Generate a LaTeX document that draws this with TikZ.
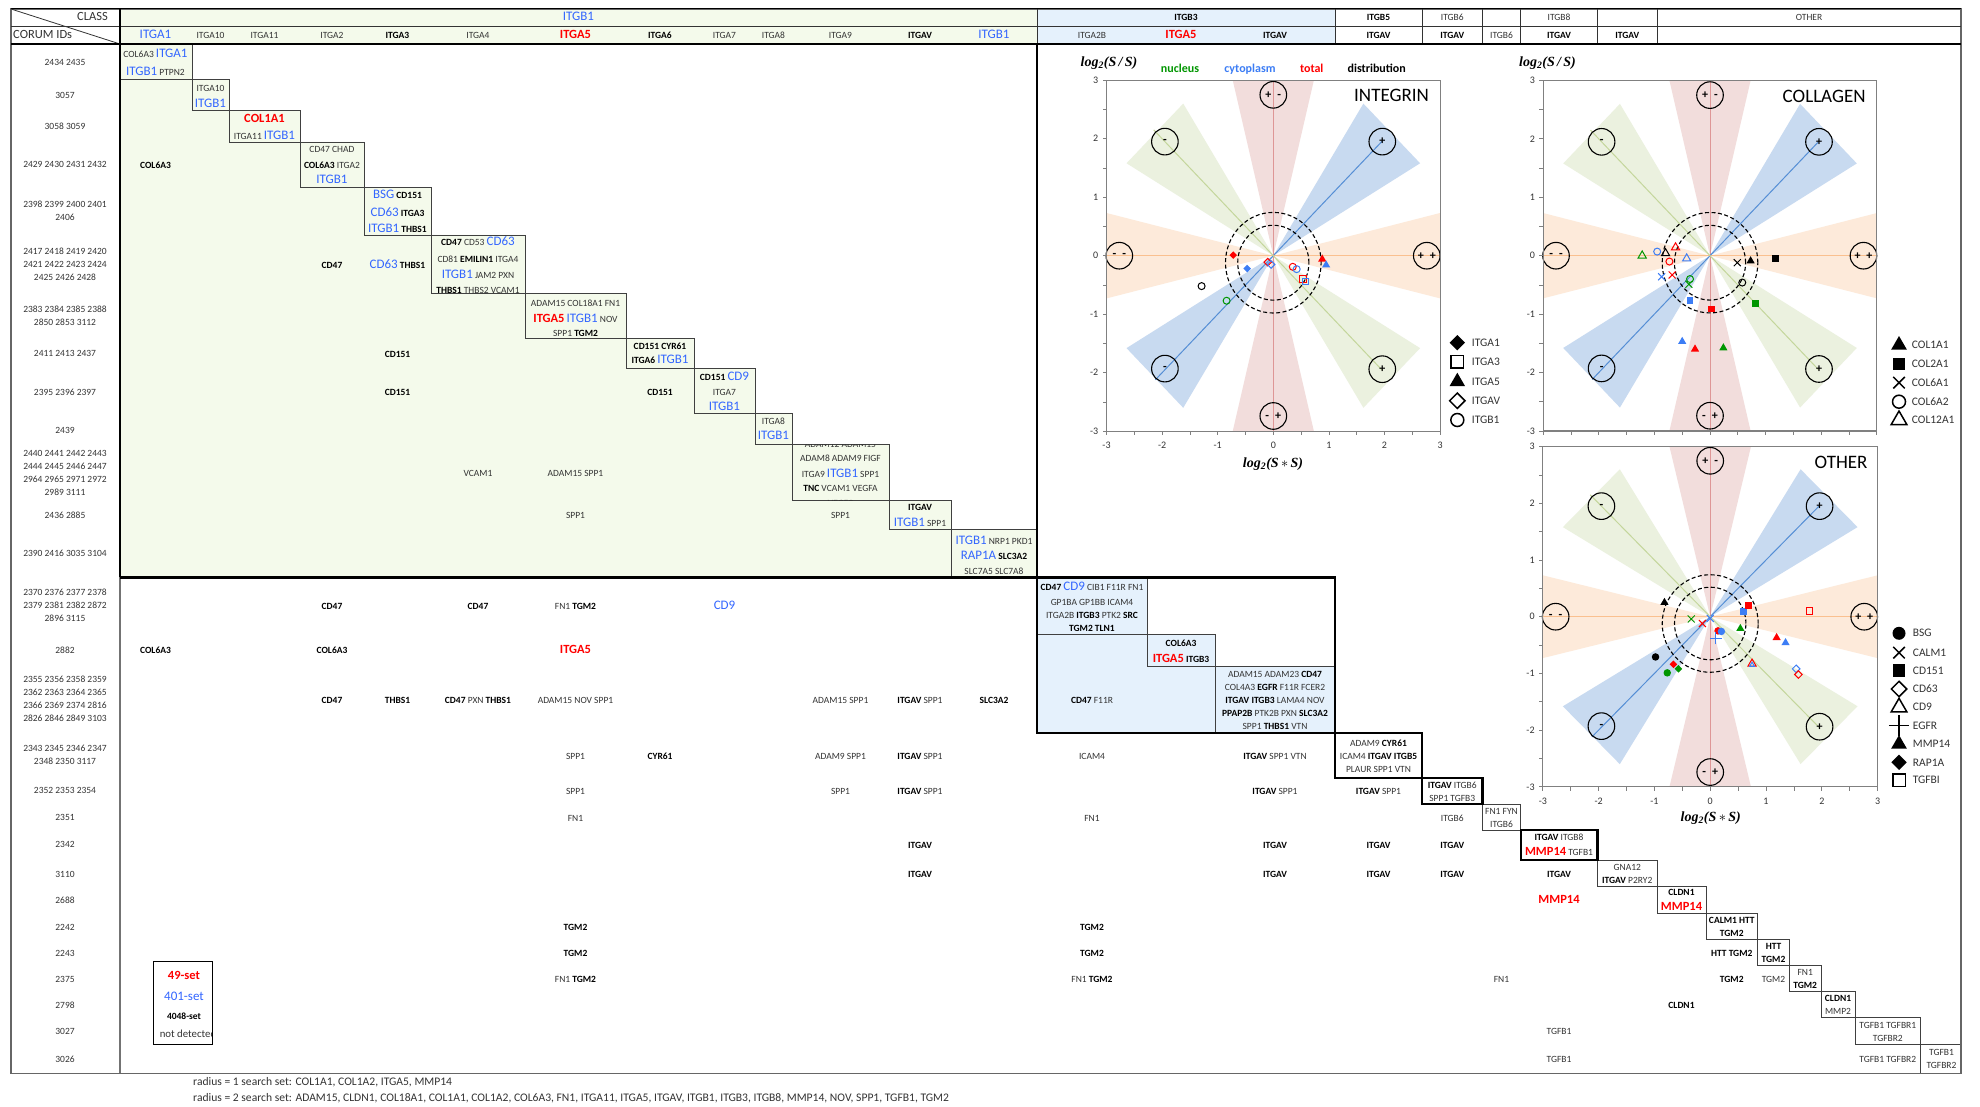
\documentclass[tikz,border=0pt]{standalone}
\usepackage{fontspec}
\setmainfont{Carlito}
\newfontfamily\axisfont{Liberation Serif}
\usetikzlibrary{shapes.geometric,shapes.misc}

\definecolor{setred}{RGB}{255,0,0}
\definecolor{setblue}{RGB}{51,102,255}
\definecolor{cytblue}{RGB}{60,125,245}
\definecolor{nucgreen}{RGB}{0,150,0}
\definecolor{itgbonefill}{RGB}{244,250,235}
\definecolor{itgbthreefill}{RGB}{229,241,252}
\definecolor{wedgeorange}{RGB}{253,234,218}
\definecolor{wedgepink}{RGB}{242,221,220}
\definecolor{wedgeblue}{RGB}{200,218,240}
\definecolor{wedgegreen}{RGB}{235,241,223}
\definecolor{lineorange}{RGB}{250,192,143}
\definecolor{linepink}{RGB}{222,150,150}
\definecolor{lineblue}{RGB}{85,142,213}
\definecolor{linegreen}{RGB}{196,214,155}

\newcommand{\gR}[1]{{\fontsize{12.5}{13}\selectfont\bfseries\color{setred}#1}}
\newcommand{\gB}[1]{{\fontsize{13}{13}\selectfont\color{setblue}#1}}
\newcommand{\gK}[1]{{\bfseries\color{black}#1}}
\newcommand{\logss}[1]{{\axisfont\fontsize{14}{14}\selectfont\bfseries\itshape log\textsubscript{2}(S#1S)}}

\tikzset{
  txt/.style={anchor=base, yshift=-3.4pt, inner sep=0pt, text=black!80,
    font=\fontsize{9.5}{11}\selectfont},
  idtxt/.style={align=center, inner sep=0pt, text=black!80,
    font=\fontsize{9.5}{13}\selectfont},
  headtxt/.style={txt, font=\fontsize{12.5}{13}\selectfont},
  notetxt/.style={txt, anchor=base west, font=\fontsize{11.6}{12}\selectfont},
  thinbox/.style={draw=black!75, line width=0.8pt},
  thickbox/.style={draw=black, line width=2.2pt},
  axisgray/.style={draw=black!50},
  ticklab/.style={inner sep=0pt, text=black!80, font=\fontsize{10}{10}\selectfont},
  signring/.style={circle, draw=black, line width=1.1pt, minimum size=26.6pt,
    inner sep=0pt, font=\bfseries\fontsize{12}{12}\selectfont},
  dashed ring/.style={draw=black, line width=1.1pt, dash pattern=on 4pt off 2.5pt},
  mk/.style={inner sep=0pt, line width=1pt},
  fdia/.style={mk, diamond, fill, minimum size=8pt},
  odia/.style={mk, diamond, draw, minimum size=8pt},
  fsq/.style={mk, rectangle, fill, minimum size=6.5pt},
  osq/.style={mk, rectangle, draw, minimum size=6.5pt},
  ftri/.style={mk, regular polygon, regular polygon sides=3, fill, minimum size=9.5pt},
  otri/.style={mk, regular polygon, regular polygon sides=3, draw, minimum size=9.5pt},
  otris/.style={mk, regular polygon, regular polygon sides=3, draw, minimum size=5.5pt},
  fcirc/.style={mk, circle, fill, minimum size=7.5pt},
  ocirc/.style={mk, circle, draw, minimum size=7pt},
  xmark/.style={mk, cross out, draw, minimum size=6pt},
  pmark/.style={mk, cross out, draw, minimum size=7.5pt, rotate=45},
  legtxt/.style={anchor=west, inner sep=0pt, text=black!80, font=\fontsize{11.5}{12}\selectfont},
  plottitle/.style={anchor=north east, inner sep=0pt, font=\fontsize{19}{19}\selectfont},
  keytxt/.style={anchor=base, inner sep=0pt, font=\bfseries\fontsize{12}{12}\selectfont},
}

\newcommand{\sectorgrid}[1]{%
  \fill[wedgeorange] (0,0) -- (-3,0.73) -- (-3,-0.73) -- cycle
                     (0,0) -- (3,0.73) -- (3,-0.73) -- cycle;
  \fill[wedgepink] (0,0) -- (-0.73,3) -- (0.73,3) -- cycle
                   (0,0) -- (-0.73,-3) -- (0.73,-3) -- cycle;
  \fill[wedgeblue] (0,0) -- (1.62,2.6) -- (2.64,1.58) -- cycle
                   (0,0) -- (-1.62,-2.6) -- (-2.64,-1.58) -- cycle;
  \fill[wedgegreen] (0,0) -- (-1.62,2.6) -- (-2.64,1.58) -- cycle
                    (0,0) -- (1.62,-2.6) -- (2.64,-1.58) -- cycle;
  \draw[lineorange, line width=1pt] (-3,0) -- (3,0);
  \draw[linepink, line width=1pt] (0,-3) -- (0,3);
  \draw[lineblue, line width=1pt] (-2.12,-2.12) -- (1.96,1.96);
  \draw[linegreen, line width=1pt] (-2.15,2.15) -- (1.96,-1.96);
  \draw[dashed ring] (0,-0.12) circle [radius=0.86];
  \draw[dashed ring] (0,-0.12) circle [radius=0.64];
  \foreach \sgx/\sgy/\sgt [count=\i] in {0/2.75/{+\hspace{6pt}-}, 0/-2.74/{-\hspace{6pt}+},
      -2.77/0/{-\hspace{6pt}-}, 2.76/0/{+\hspace{6pt}+}, 1.96/1.95/+, -1.95/1.95/-,
      -1.95/-1.93/-, 1.96/-1.94/+}
    \node[signring] (#1sign\i) at (\sgx,\sgy) {\sgt};
  \draw[axisgray, line width=1.2pt] (-3,-3) rectangle (3,3);
  \foreach \tk in {-3,-2.5,...,3} {
    \draw[axisgray, line width=0.8pt] (-3,\tk) -- ++(-4pt,0);
    \draw[axisgray, line width=0.8pt] (\tk,-3) -- ++(0,-4pt);
  }
  \foreach \tk [count=\i] in {-3,...,3}
    \node[ticklab, anchor=east, xshift=-8pt] (#1ylab\i) at (-3,\tk) {\tk};
}

\begin{document}
\begin{tikzpicture}[x=1pt, y=-1pt]
\useasboundingbox (0,0) rectangle (1980,1107);
\fill[white] (0,0) rectangle (1980,1107);

\fill[itgbonefill] (120,9) rectangle (1037,44);
\fill[itgbthreefill] (1037,9) rectangle (1335,44);
\fill[itgbonefill] (120,44) -- (192,44) -- (192,79.3) -- (229,79.3) -- (229,110.7)
  -- (300,110.7) -- (300,142) -- (364,142) -- (364,187.3) -- (431,187.3) -- (431,235)
  -- (525,235) -- (525,293.3) -- (626,293.3) -- (626,338.3) -- (694,338.3) -- (694,368.3)
  -- (755,368.3) -- (755,413.3) -- (792,413.3) -- (792,444.3) -- (889,444.3) -- (889,500.7)
  -- (951,500.7) -- (951,529.3) -- (1037,529.3) -- (1037,577.3) -- (120,577.3) -- cycle;
\fill[itgbthreefill] (1037,577.3) -- (1147,577.3) -- (1147,634) -- (1215,634) -- (1215,666)
  -- (1335,666) -- (1335,733) -- (1037,733) -- cycle;

\foreach \xa/\xb/\ya/\yb in {120/192/44/79.3, 192/229/79.3/110.7, 229/300/110.7/142,
    300/364/142/187.3, 364/431/187.3/235, 431/525/235/293.3, 525/626/293.3/338.3,
    626/694/338.3/368.3, 694/755/368.3/413.3, 755/792/413.3/444.3, 792/889/444.3/500.7,
    889/951/500.7/529.3, 951/1037/529.3/577.3, 1037/1147/577.3/634, 1147/1215/634/666,
    1215/1335/666/733, 1482.5/1520.6/804.3/830, 1597.5/1657/860/886.7, 1657/1706/886.7/913.3,
    1706/1757.5/913.3/939.3, 1757.5/1789.4/939.3/965.3, 1789.4/1821/965.3/991.7,
    1821/1855/991.7/1017.7, 1855/1920.6/1017.7/1044, 1920.6/1961/1044/1073.3}
  \draw[thinbox] (\xa,\ya) rectangle (\xb,\yb);
\foreach \xa/\xb/\ya/\yb in {1335/1422/733/778.3, 1422/1482.5/778.3/804.3, 1520.6/1597.5/830/860}
  \draw[thickbox] (\xa,\ya) rectangle (\xb,\yb);

\draw[black!60, line width=1.6pt] (11,9) rectangle (1961,1073.3);
\draw[black, line width=1pt] (11,9) -- (1961,9);
\draw[black!80, line width=0.8pt] (11,26.5) -- (1961,26.5);
\draw[black!80, line width=0.8pt] (11,9) -- (120,44);
\foreach \x in {1037,1335,1422,1482.5,1520.6,1597.5,1657}
  \draw[black!80, line width=0.8pt] (\x,9) -- (\x,44);
\draw[black, line width=2.4pt] (11,44) -- (1961,44);
\draw[black, line width=2.2pt] (120,9) -- (120,577.3);
\draw[black!55, line width=2pt] (120,577.3) -- (120,1073.3);
\draw[black, line width=2.4pt] (120,577.3) -- (1037,577.3) (1037,44) -- (1037,577.3);
\draw[black, line width=2.4pt] (1037,577.3) rectangle (1335,733);

\node[headtxt, anchor=base east] (classlab) at (108,17.5) {CLASS};
\node[headtxt, anchor=base west] (corumlab) at (13,35) {CORUM IDs};
\foreach \hdx/\hdy/\hdt [count=\i] in {578.5/17.5/{\gB{ITGB1}}, 1186/17.5/{\gK{ITGB3}},
    1378.5/17.5/{\gK{ITGB5}}, 1452.25/17.5/{ITGB6}, 1559/17.5/{ITGB8}, 1809/17.5/{OTHER},
    155.5/35/{\gB{ITGA1}}, 210.5/35/{ITGA10}, 264.5/35/{ITGA11}, 332/35/{ITGA2},
    397.5/35/{\gK{ITGA3}}, 478/35/{ITGA4}, 575.5/35/{\gR{ITGA5}}, 660/35/{\gK{ITGA6}},
    724.5/35/{ITGA7}, 773.5/35/{ITGA8}, 840.5/35/{ITGA9}, 920/35/{\gK{ITGAV}},
    994/35/{\gB{ITGB1}}, 1092/35/{ITGA2B}, 1181/35/{\gR{ITGA5}}, 1275/35/{\gK{ITGAV}},
    1378.5/35/{\gK{ITGAV}}, 1452.25/35/{\gK{ITGAV}}, 1501.5/35/{ITGB6},
    1559/35/{\gK{ITGAV}}, 1627.25/35/{\gK{ITGAV}}}
  \node[txt] (hd\i) at (\hdx,\hdy) {\hdt};

\foreach \idy/\idt [count=\i] in {62.7/{2434 2435}, 95.7/{3057}, 126.7/{3058 3059},
    164.7/{2429 2430 2431 2432}, 211.2/{2398 2399 2400 2401\\2406},
    264.7/{2417 2418 2419 2420\\2421 2422 2423 2424\\2425 2426 2428},
    316.2/{2383 2384 2385 2388\\2850 2853 3112}, 353.7/{2411 2413 2437},
    392/{2395 2396 2397}, 430/{2439},
    472.5/{2440 2441 2442 2443\\2444 2445 2446 2447\\2964 2965 2971 2972\\2989 3111},
    515/{2436 2885}, 553.3/{2390 2416 3035 3104},
    605.7/{2370 2376 2377 2378\\2379 2381 2382 2872\\2896 3115}, 650/{2882},
    699.2/{2355 2356 2358 2359\\2362 2363 2364 2365\\2366 2369 2374 2816\\2826 2846 2849 3103},
    755.2/{2343 2345 2346 2347\\2348 2350 3117}, 790.7/{2352 2353 2354}, 817.7/{2351},
    844.7/{2342}, 874/{3110}, 900.3/{2688}, 927/{2242}, 953/{2243}, 979/{2375},
    1005/{2798}, 1031.7/{3027}, 1059/{3026}}
  \node[idtxt] (id\i) at (65,\idy) {\idt};

\foreach \clx/\cly/\clt [count=\i] in {155.5/54.3/{COL6A3 \gB{ITGA1}}, 155.5/71.7/{\gB{ITGB1} PTPN2},
    210.5/87.7/{ITGA10}, 210.5/104/{\gB{ITGB1}}, 264.5/119.3/{\gR{COL1A1}},
    264.5/135.7/{ITGA11 \gB{ITGB1}}, 332/149/{CD47 CHAD}, 332/165/{\gK{COL6A3} ITGA2},
    332/180.3/{\gB{ITGB1}}, 397.5/195.3/{\gB{BSG} \gK{CD151}}, 397.5/212.7/{\gB{CD63} \gK{ITGA3}},
    397.5/228.7/{\gB{ITGB1} \gK{THBS1}}, 478/242/{\gK{CD47} CD53 \gB{CD63}},
    478/259/{CD81 \gK{EMILIN1} ITGA4}, 478/275.3/{\gB{ITGB1} JAM2 PXN},
    478/289.7/{\gK{THBS1} THBS2 VCAM1}, 575.5/303/{ADAM15 COL18A1 FN1},
    575.5/319.3/{\gR{ITGA5} \gB{ITGB1} NOV}, 575.5/332.7/{SPP1 \gK{TGM2}},
    660/345.7/{\gK{CD151 CYR61}}, 660/360/{\gK{ITGA6} \gB{ITGB1}},
    724.5/377.3/{\gK{CD151} \gB{CD9}}, 724.5/391.7/{ITGA7}, 724.5/406.7/{\gB{ITGB1}},
    773.5/420.7/{ITGA8}, 773.5/436/{\gB{ITGB1}}, 920/506.7/{\gK{ITGAV}},
    920/522.7/{\gB{ITGB1} SPP1}, 994/540.7/{\gB{ITGB1} NRP1 PKD1},
    994/556/{\gB{RAP1A} \gK{SLC3A2}}, 994/570.7/{SLC7A5 SLC7A8},
    1092/587.3/{\gK{CD47} \gB{CD9} CIB1 F11R FN1}, 1092/602/{GP1BA GP1BB ICAM4},
    1092/614.7/{ITGA2B \gK{ITGB3} PTK2 \gK{SRC}}, 1092/627.7/{\gK{TGM2 TLN1}},
    1181/642.7/{\gK{COL6A3}}, 1181/659.3/{\gR{ITGA5} \gK{ITGB3}},
    1275/673.7/{ADAM15 ADAM23 \gK{CD47}}, 1275/686.7/{COL4A3 \gK{EGFR} F11R FCER2},
    1275/700/{\gK{ITGAV ITGB3} LAMA4 NOV}, 1275/713/{\gK{PPAP2B} PTK2B PXN \gK{SLC3A2}},
    1275/726/{SPP1 \gK{THBS1} VTN}, 1378.5/742.7/{ADAM9 \gK{CYR61}},
    1378.5/756/{ICAM4 \gK{ITGAV ITGB5}}, 1378.5/769/{PLAUR SPP1 VTN},
    1452.25/785/{\gK{ITGAV} ITGB6}, 1452.25/797.7/{SPP1 TGFB3}, 1501.5/810.7/{FN1 FYN},
    1501.5/823.7/{ITGB6}, 1559/837/{\gK{ITGAV} ITGB8}, 1559/852/{\gR{MMP14} TGFB1},
    1627.25/867/{GNA12}, 1627.25/880/{\gK{ITGAV} P2RY2}, 1681.5/892/{\gK{CLDN1}},
    1681.5/907/{\gR{MMP14}}, 1731.75/919.7/{\gK{CALM1 HTT}}, 1731.75/932.7/{\gK{TGM2}},
    1773.5/945.7/{\gK{HTT}}, 1773.5/959/{\gK{TGM2}}, 1805.2/971.7/{FN1},
    1805.2/984.7/{\gK{TGM2}}, 1838/997.7/{\gK{CLDN1}}, 1838/1010.7/{MMP2},
    1887.8/1025/{TGFB1 TGFBR1}, 1887.8/1037.7/{TGFBR2}, 1941.5/1052/{TGFB1},
    1941.5/1065/{TGFBR2}}
  \node[txt] (bx\i) at (\clx,\cly) {\clt};

\begin{scope}
  \clip (792,444.3) rectangle (889,500.7);
  \foreach \cly/\clt [count=\i] in {443.6/{ADAM12 ADAM15}, 458.3/{ADAM8 ADAM9 FIGF},
      473.7/{ITGA9 \gB{ITGB1} SPP1}, 488.3/{\gK{TNC} VCAM1 VEGFA}, 503/{VEGFC}}
    \node[txt] (nine\i) at (840.5,\cly) {\clt};
\end{scope}

\foreach \clx/\cly/\clt [count=\i] in {155.5/164.7/{\gK{COL6A3}}, 332/264.7/{\gK{CD47}},
    397.5/264.7/{\gB{CD63} \gK{THBS1}}, 397.5/353.7/{\gK{CD151}}, 397.5/392/{\gK{CD151}},
    660/392/{\gK{CD151}}, 478/472.7/{VCAM1}, 575.5/472.7/{ADAM15 SPP1}, 575.5/515/{SPP1},
    840.5/515/{SPP1}, 332/605.7/{\gK{CD47}}, 478/605.7/{\gK{CD47}},
    575.5/605.7/{FN1 \gK{TGM2}}, 724.5/605.7/{\gB{CD9}}, 155.5/650/{\gK{COL6A3}},
    332/650/{\gK{COL6A3}}, 575.5/650/{\gR{ITGA5}}, 332/700/{\gK{CD47}}, 397.5/700/{\gK{THBS1}},
    478/700/{\gK{CD47} PXN \gK{THBS1}}, 575.5/700/{ADAM15 NOV SPP1}, 840.5/700/{ADAM15 SPP1},
    920/700/{\gK{ITGAV} SPP1}, 994/700/{\gK{SLC3A2}}, 1092/700/{\gK{CD47} F11R},
    575.5/755.7/{SPP1}, 660/755.7/{\gK{CYR61}}, 840.5/755.7/{ADAM9 SPP1},
    920/755.7/{\gK{ITGAV} SPP1}, 1092/755.7/{ICAM4}, 1275/755.7/{\gK{ITGAV} SPP1 VTN},
    575.5/790.7/{SPP1}, 840.5/790.7/{SPP1}, 920/790.7/{\gK{ITGAV} SPP1},
    1275/790.7/{\gK{ITGAV} SPP1}, 1378.5/790.7/{\gK{ITGAV} SPP1}, 575.5/817.7/{FN1},
    1092/817.7/{FN1}, 1452.25/817.7/{ITGB6}, 920/845/{\gK{ITGAV}}, 1275/845/{\gK{ITGAV}},
    1378.5/845/{\gK{ITGAV}}, 1452.25/845/{\gK{ITGAV}}, 920/873.7/{\gK{ITGAV}},
    1275/873.7/{\gK{ITGAV}}, 1378.5/873.7/{\gK{ITGAV}}, 1452.25/873.7/{\gK{ITGAV}},
    1559/873.7/{\gK{ITGAV}}, 1559/900/{\gR{MMP14}}, 575.5/927/{\gK{TGM2}},
    1092/927/{\gK{TGM2}}, 575.5/953/{\gK{TGM2}}, 1092/953/{\gK{TGM2}},
    1731.75/952.7/{\gK{HTT TGM2}}, 575.5/979/{FN1 \gK{TGM2}}, 1092/979/{FN1 \gK{TGM2}},
    1501.5/979/{FN1}, 1731.75/979/{\gK{TGM2}}, 1773.5/979/{TGM2}, 1681.5/1005/{\gK{CLDN1}},
    1559/1031/{TGFB1}, 1559/1058.7/{TGFB1}, 1887.8/1058.7/{TGFB1 TGFBR2}}
  \node[txt] (cl\i) at (\clx,\cly) {\clt};

\begin{scope}
  \clip (153,961) rectangle (212.4,1044.3);
  \node[txt] (keyred) at (184,976) {\gR{49-set}};
  \node[txt] (keyblue) at (184,997) {\gB{401-set}};
  \node[txt] (keyblack) at (184,1016) {\gK{4048-set}};
  \node[txt, font=\fontsize{10.8}{11}\selectfont] (keynd) at (188,1034) {not detected};
\end{scope}
\draw[black, line width=1pt] (153,961) rectangle (212.4,1044.3);

\node[notetxt] (note1) at (193,1082.3)
  {radius = 1 search set: COL1A1, COL1A2, ITGA5, MMP14};
\node[notetxt] (note2) at (193,1098.3)
  {radius = 2 search set: ADAM15, CLDN1, COL18A1, COL1A1, COL1A2, COL6A3, FN1, ITGA11, ITGA5, ITGAV, ITGB1, ITGB3, ITGB8, MMP14, NOV, SPP1, TGFB1, TGM2};

\begin{scope}[shift={(1273.3pt,-255.7pt)}, x=55.6pt, y=58.5pt]
  \sectorgrid{int}
  \foreach \tk [count=\i] in {-3,...,3}
    \node[ticklab, anchor=north, yshift=-11pt] (intxlab\i) at (\tk,-3) {\tk};
  \node[plottitle, xshift=-11pt, yshift=-9pt] (inttitle) at (3,3) {INTEGRIN};
  \foreach \px/\py/\mcol/\mstyle [count=\i] in {-0.72/0.01/setred/fdia,
      -0.47/-0.22/cytblue/fdia, -0.10/-0.11/setred/odia, -0.04/-0.15/cytblue/odia,
      0.35/-0.19/setred/ocirc, 0.42/-0.23/cytblue/ocirc, 0.53/-0.40/setred/osq,
      0.58/-0.44/cytblue/osq, 0.88/-0.06/setred/ftri, 0.95/-0.16/cytblue/ftri,
      -1.29/-0.52/black/ocirc, -0.84/-0.77/nucgreen/ocirc}
    \node[\mstyle, \mcol] (intp\i) at (\px,\py) {};
\end{scope}
\node (intytitle) at (1109,63.3) {\logss{\,/\,}};
\node (intxtitle) at (1273,464.3) {\logss{\,$\ast$\,}};
\node[keytxt, text=nucgreen] (keynuc) at (1180,72.5) {nucleus};
\node[keytxt, text=cytblue] (keycyt) at (1250,72.5) {cytoplasm};
\node[keytxt, text=setred] (keytot) at (1311.7,72.5) {total};
\node[keytxt, text=black] (keydis) at (1376.7,72.5) {distribution};
\foreach \lm/\lsz/\lgy/\lgt [count=\i] in {fdia/16pt/342.7/ITGA1, osq/12.5pt/361.7/ITGA3,
    ftri/18pt/381.7/ITGA5, odia/16pt/400.7/ITGAV, ocirc/13pt/420/ITGB1} {
  \node[\lm, black, minimum size=\lsz, line width=1.5pt] (intlm\i) at (1457.3,\lgy) {};
  \node[legtxt] (intlt\i) at (1471.7,\lgy) {\lgt};
}

\begin{scope}[shift={(1710pt,-255.7pt)}, x=55.6pt, y=58.4pt]
  \sectorgrid{col}
  \node[plottitle, xshift=-11pt, yshift=-9pt] (coltitle) at (3,3) {COLLAGEN};
  \foreach \px/\py/\mcol/\mstyle [count=\i] in {-1.22/0/nucgreen/otri,
      -0.95/0.07/cytblue/ocirc, -0.80/0.04/black/otri, -0.62/0.14/setred/otri,
      -0.73/-0.10/setred/ocirc, -0.42/-0.05/cytblue/otri, -0.87/-0.36/cytblue/xmark,
      -0.68/-0.33/setred/xmark, -0.36/-0.40/nucgreen/ocirc, -0.38/-0.49/nucgreen/xmark,
      -0.36/-0.77/cytblue/fsq, 0.03/-0.91/setred/fsq, 0.82/-0.82/nucgreen/fsq,
      0.49/-0.12/black/xmark, 0.73/-0.09/black/ftri, 1.18/-0.05/black/fsq,
      0.58/-0.46/black/ocirc, -0.50/-1.47/cytblue/ftri, -0.27/-1.6/setred/ftri,
      0.24/-1.58/nucgreen/ftri}
    \node[\mstyle, \mcol] (colp\i) at (\px,\py) {};
\end{scope}
\node (colytitle) at (1547.5,63.3) {\logss{\,/\,}};
\foreach \lm/\lsz/\lgy/\lgt [count=\i] in {ftri/18pt/345/COL1A1, fsq/12.5pt/364/COL2A1,
    xmark/10pt/382.7/COL6A1, ocirc/13pt/401.7/COL6A2, otri/18pt/420/COL12A1} {
  \node[\lm, black, minimum size=\lsz, line width=1.5pt] (collm\i) at (1899,\lgy) {};
  \node[legtxt] (collt\i) at (1911.7,\lgy) {\lgt};
}

\begin{scope}[shift={(1710.2pt,-616.7pt)}, x=55.8pt, y=56.7pt]
  \sectorgrid{oth}
  \foreach \tk [count=\i] in {-3,...,3}
    \node[ticklab, anchor=north, yshift=-11pt] (othxlab\i) at (\tk,-3) {\tk};
  \node[plottitle, xshift=-10pt, yshift=-9pt] (othtitle) at (3,3) {OTHER};
  \foreach \px/\py/\mcol/\mstyle [count=\i] in {-0.82/0.25/black/ftri,
      -0.34/-0.04/nucgreen/xmark, -0.14/-0.12/setred/xmark, 0/-0.03/cytblue/xmark,
      0.14/-0.25/setred/fcirc, 0.2/-0.26/cytblue/fcirc, 0.1/-0.38/cytblue/pmark,
      0.6/0.09/cytblue/fsq, 0.69/0.2/setred/fsq, 0.54/-0.21/nucgreen/ftri,
      1.19/-0.37/setred/ftri, 1.35/-0.46/cytblue/ftri, 0.75/-0.83/setred/otri,
      0.75/-0.85/cytblue/otris, 1.54/-0.92/cytblue/odia, 1.58/-1.02/setred/odia,
      1.78/0.1/setred/osq, -0.98/-0.71/black/fcirc, -0.66/-0.84/setred/fdia,
      -0.57/-0.92/nucgreen/fdia, -0.77/-0.99/nucgreen/fcirc}
    \node[\mstyle, \mcol] (othp\i) at (\px,\py) {};
\end{scope}
\node (othxtitle) at (1710.7,818.3) {\logss{\,$\ast$\,}};
\foreach \lm/\lsz/\lgy/\lgt [count=\i] in {fcirc/13pt/633.3/BSG, xmark/10pt/652.7/CALM1,
    fsq/12.5pt/670.7/CD151, odia/16pt/689/CD63, otri/18pt/707.3/CD9,
    pmark/13pt/725.7/EGFR, ftri/18pt/744/MMP14, fdia/16pt/762.3/RAP1A,
    osq/12.5pt/780/TGFBI} {
  \node[\lm, black, minimum size=\lsz, line width=1.5pt] (othlm\i) at (1899,\lgy) {};
  \node[legtxt] (othlt\i) at (1912.7,\lgy) {\lgt};
}
\end{tikzpicture}
\end{document}
